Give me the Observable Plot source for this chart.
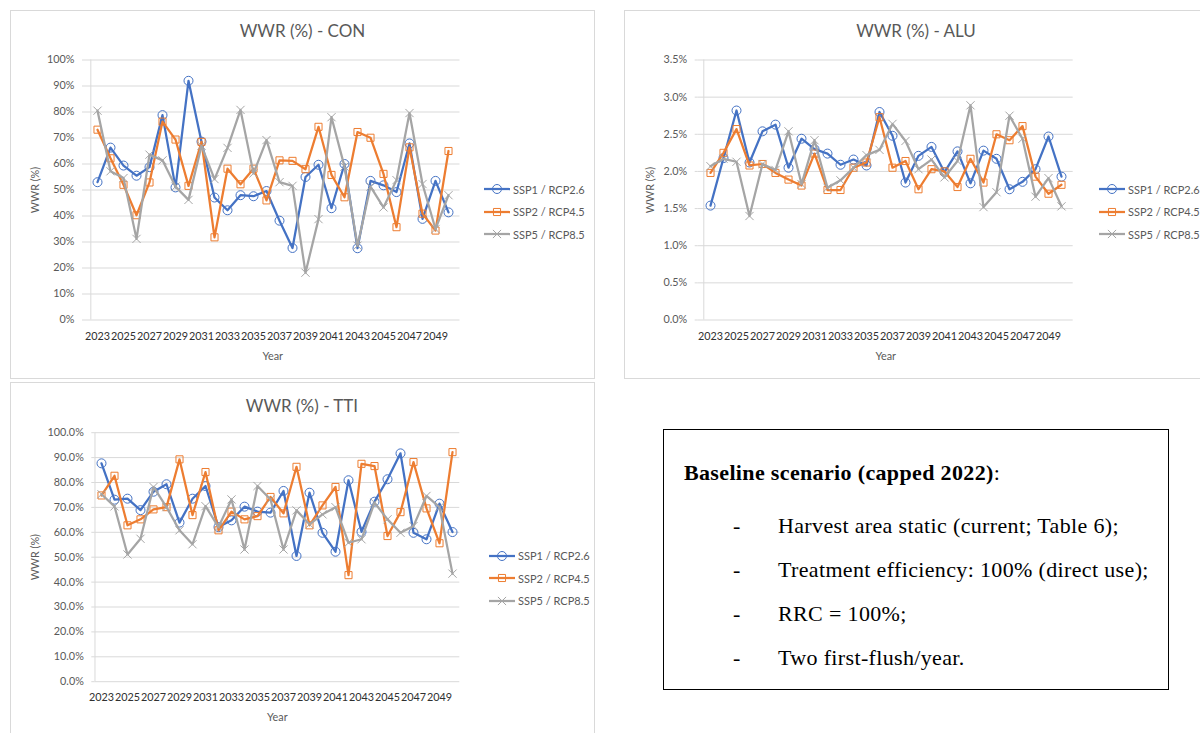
<!DOCTYPE html>
<html>
<head>
<meta charset="utf-8">
<script src="https://cdn.jsdelivr.net/npm/d3@7"></script>
<script src="https://cdn.jsdelivr.net/npm/@observablehq/plot@0.6"></script>
<style>
  html, body { margin: 0; padding: 0; background: #fff; }
  #root { position: relative; width: 1200px; height: 733px; overflow: hidden; font-family: Lato, "Open Sans", sans-serif; }
  .box { position: absolute; border: 1px solid #d9d9d9; box-sizing: border-box; background: #fff; }
  .title { position: absolute; color: #595959; font-size: 17px; white-space: nowrap; transform: translate(-50%, -50%); line-height: 1; }
  .lg { position: absolute; display: flex; align-items: center; height: 18px; width: max-content; color: #595959; font-size: 11px; white-space: nowrap; }
  .lg svg { margin-right: 3px; overflow: visible; flex: none; }
  .lg span { flex: none; }
  .tbox { position: absolute; border: 1px solid #000; box-sizing: border-box; background: #fff; }
  .tl { position: absolute; font-family: "Liberation Serif", "Times New Roman", serif; font-size: 22px; line-height: 1; color: #000; white-space: nowrap; letter-spacing: 0.35px; }
</style>
</head>
<body>
<div id="root"></div>
<script>
// ---------- data ----------
const YEARS = [2023, 2024, 2025, 2026, 2027, 2028, 2029, 2030, 2031, 2032, 2033, 2034, 2035, 2036,
               2037, 2038, 2039, 2040, 2041, 2042, 2043, 2044, 2045, 2046, 2047, 2048, 2049, 2050];
const X_TICKS = [2023, 2025, 2027, 2029, 2031, 2033, 2035, 2037, 2039, 2041, 2043, 2045, 2047, 2049];
const SERIES_NAMES = ["SSP1 / RCP2.6", "SSP2 / RCP4.5", "SSP5 / RCP8.5"];

const CON_SSP1 = [53.0, 66.3, 59.4, 55.5, 58.8, 78.8, 51.0, 92.0, 68.6, 47.1, 42.2, 48.0, 47.6, 49.6,
                  38.2, 27.7, 55.0, 59.7, 43.0, 60.0, 27.6, 53.5, 51.8, 49.2, 67.9, 38.9, 53.5, 41.4];
const CON_SSP2 = [73.2, 62.2, 52.0, 40.3, 52.9, 76.3, 69.4, 51.6, 68.5, 31.8, 58.2, 52.2, 58.2, 46.0,
                  61.4, 61.2, 58.0, 74.3, 55.8, 47.2, 72.3, 70.1, 56.2, 35.7, 66.4, 40.9, 34.4, 65.0];
const CON_SSP5 = [80.5, 57.2, 54.6, 31.2, 63.6, 61.4, 51.3, 46.2, 67.0, 54.2, 66.2, 80.8, 56.4, 69.2,
                  53.0, 51.6, 18.2, 38.8, 78.0, 59.0, 28.6, 51.3, 43.3, 53.8, 79.6, 52.3, 35.0, 48.0];

const ALU_SSP1 = [1.54, 2.18, 2.82, 2.12, 2.54, 2.63, 2.05, 2.44, 2.30, 2.24, 2.09, 2.16, 2.08, 2.80,
                  2.48, 1.85, 2.21, 2.33, 1.99, 2.27, 1.84, 2.28, 2.17, 1.76, 1.86, 2.03, 2.47, 1.93];
const ALU_SSP2 = [1.98, 2.25, 2.57, 2.08, 2.10, 1.98, 1.89, 1.81, 2.24, 1.75, 1.75, 2.05, 2.12, 2.73,
                  2.05, 2.14, 1.76, 2.03, 2.00, 1.79, 2.17, 1.85, 2.50, 2.42, 2.61, 1.93, 1.70, 1.82];
const ALU_SSP5 = [2.07, 2.17, 2.13, 1.40, 2.10, 2.02, 2.54, 1.83, 2.42, 1.78, 1.88, 2.05, 2.22, 2.29,
                  2.64, 2.41, 2.03, 2.16, 1.92, 2.14, 2.89, 1.52, 1.72, 2.75, 2.44, 1.66, 1.91, 1.53];

const TTI_SSP1 = [87.7, 73.1, 73.5, 68.9, 76.3, 79.3, 63.9, 73.5, 78.6, 62.1, 64.8, 70.3, 68.3, 67.9,
                  76.6, 50.5, 75.9, 59.8, 52.2, 80.9, 60.2, 72.3, 81.3, 91.7, 59.8, 57.2, 71.5, 60.1];
const TTI_SSP2 = [74.8, 82.7, 62.8, 65.2, 69.2, 70.1, 89.3, 66.9, 84.2, 60.8, 68.3, 65.2, 66.5, 74.2,
                  67.6, 86.3, 62.8, 70.8, 78.2, 42.8, 87.5, 86.6, 58.5, 68.1, 88.2, 69.6, 55.6, 92.2];
const TTI_SSP5 = [75.3, 70.4, 51.1, 57.4, 78.2, 70.1, 60.8, 55.2, 70.5, 62.1, 73.2, 53.1, 78.6, 73.2,
                  53.1, 68.8, 63.2, 67.2, 70.1, 55.8, 57.2, 71.9, 65.2, 59.8, 62.5, 74.6, 70.1, 43.4];

const CON_TICKS = [0, 10, 20, 30, 40, 50, 60, 70, 80, 90, 100];
const ALU_TICKS = [0, 0.5, 1.0, 1.5, 2.0, 2.5, 3.0, 3.5];
const TTI_TICKS = [0, 10, 20, 30, 40, 50, 60, 70, 80, 90, 100];

const BOX_TITLE = "Baseline scenario (capped 2022)";
const BOX_ITEMS = ["Harvest area static (current; Table 6);", "Treatment efficiency: 100% (direct use);",
                   "RRC = 100%;", "Two first-flush/year."];

// ---------- styles ----------
const COLORS = ["#4472C4", "#ED7D31", "#A5A5A5"];
const SYMBOLS = ["circle", "square", "times"];
const RADII = [4.5, 4.0, 3.8];
const D3SYM = [d3.symbolCircle, d3.symbolSquare, d3.symbolTimes];

const root = document.getElementById("root");

function makeChart(cfg) {
  const [bl, bt, bw, bh] = cfg.box;
  const box = document.createElement("div");
  box.className = "box";
  Object.assign(box.style, {left: bl + "px", top: bt + "px", width: bw + "px", height: bh + "px"});
  root.append(box);

  const rows = [];
  cfg.series.forEach((vals, i) => vals.forEach((v, j) => rows.push({year: YEARS[j], v, s: i})));
  const step = (cfg.x1 - cfg.x0) / YEARS.length;
  const yMax = cfg.ticks[cfg.ticks.length - 1];

  const marks = [
    Plot.gridY(cfg.ticks, {stroke: "#d9d9d9", strokeOpacity: 1, strokeWidth: 1}),
    Plot.ruleX([YEARS[0]], {dx: -step / 2, y1: 0, y2: yMax, stroke: "#d9d9d9", strokeWidth: 1}),
    Plot.axisY(cfg.ticks, {tickFormat: cfg.fmt, tickSize: 3, tickPadding: 8, stroke: "#d9d9d9",
      label: "WWR (%)", labelAnchor: "center", labelOffset: cfg.yLabelOffset, labelArrow: "none"}),
    Plot.axisX(X_TICKS, {tickFormat: d => String(d), tickSize: 0, tickPadding: 12, fill: "#303030",
      label: null}),
    Plot.axisX({ticks: [], tickSize: 0, label: "Year", labelAnchor: "center", labelOffset: 39.5, labelArrow: "none", fill: "#595959"})
  ];
  for (let i = 0; i < 3; i++) {
    const d = rows.filter(r => r.s === i);
    marks.push(Plot.line(d, {x: "year", y: "v", stroke: COLORS[i], strokeWidth: 2.25, strokeLinejoin: "round", strokeLinecap: "round"}));
    marks.push(Plot.dot(d, {x: "year", y: "v", symbol: SYMBOLS[i], r: RADII[i], stroke: COLORS[i], fill: "none", strokeWidth: 1}));
  }

  const svg = Plot.plot({
    width: bw, height: bh,
    marginLeft: cfg.x0 - bl, marginRight: bl + bw - cfg.x1,
    marginTop: cfg.y0 - bt, marginBottom: bt + bh - cfg.y1,
    x: {type: "point", domain: YEARS, padding: 0.5},
    y: {domain: [0, yMax]},
    style: {background: "transparent", fontFamily: "Lato, sans-serif", fontSize: "10.8px", color: "#595959", overflow: "visible"},
    marks
  });
  Object.assign(svg.style, {position: "absolute", left: bl + "px", top: bt + "px"});
  root.append(svg);

  const t = document.createElement("div");
  t.className = "title";
  t.textContent = cfg.title;
  Object.assign(t.style, {left: cfg.titleX + "px", top: cfg.titleY + "px"});
  root.append(t);

  cfg.legendY.forEach((yc, i) => {
    const row = document.createElement("div");
    row.className = "lg";
    Object.assign(row.style, {left: cfg.legendX + "px", top: (yc - 9) + "px"});
    const sw = d3.create("svg").attr("width", 26).attr("height", 12);
    sw.append("line").attr("x1", 0).attr("x2", 26).attr("y1", 6).attr("y2", 6)
      .attr("stroke", COLORS[i]).attr("stroke-width", 2.25);
    sw.append("path").attr("transform", "translate(13,6)")
      .attr("d", d3.symbol(D3SYM[i], Math.PI * RADII[i] * RADII[i])())
      .attr("fill", "none").attr("stroke", COLORS[i]).attr("stroke-width", 1);
    row.append(sw.node());
    const span = document.createElement("span");
    span.textContent = SERIES_NAMES[i];
    row.append(span);
    root.append(row);
  });
}

makeChart({title: "WWR (%) - CON", box: [10, 10, 585, 369], x0: 85, x1: 459.5, y0: 59.5, y1: 319.5,
  ticks: CON_TICKS, fmt: d => d + "%", series: [CON_SSP1, CON_SSP2, CON_SSP5], yLabelOffset: 53.8,
  titleX: 302.5, titleY: 30, legendX: 484, legendY: [189.3, 211.7, 234]});

makeChart({title: "WWR (%) - ALU", box: [624, 10, 585, 369], x0: 697.7, x1: 1072.7, y0: 59.5, y1: 319.5,
  ticks: ALU_TICKS, fmt: d => d.toFixed(1) + "%", series: [ALU_SSP1, ALU_SSP2, ALU_SSP5], yLabelOffset: 51.8,
  titleX: 916, titleY: 30, legendX: 1099, legendY: [189.3, 211.7, 234]});

makeChart({title: "WWR (%) - TTI", box: [10, 381.5, 585, 369], x0: 94.3, x1: 459.3, y0: 431.7, y1: 680.7,
  ticks: TTI_TICKS, fmt: d => d.toFixed(1) + "%", series: [TTI_SSP1, TTI_SSP2, TTI_SSP5], yLabelOffset: 63,
  titleX: 302, titleY: 405, legendX: 489, legendY: [555.5, 578, 600.5]});

// ---------- text box ----------
const tb = document.createElement("div");
tb.className = "tbox";
Object.assign(tb.style, {left: "663px", top: "429px", width: "506px", height: "261px"});
root.append(tb);

function addLine(x, baseline, html) {
  const d = document.createElement("div");
  d.className = "tl";
  d.innerHTML = html;
  Object.assign(d.style, {left: x + "px", top: (baseline - 0.891 * 22) + "px"});
  root.append(d);
}
addLine(684, 482, "<b>" + BOX_TITLE + "</b>:");
const baselines = [535, 579, 623, 667];
BOX_ITEMS.forEach((txt, i) => {
  addLine(733, baselines[i], "-");
  addLine(778, baselines[i], txt);
});
</script>
</body>
</html>
